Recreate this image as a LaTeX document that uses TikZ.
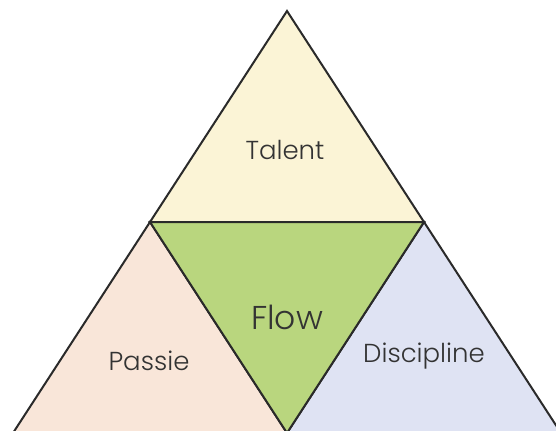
\documentclass[tikz,border=0pt]{standalone}
\usepackage{fontspec}
\setmainfont{Poppins}[UprightFont=* Light]
\definecolor{talentfill}{HTML}{FBF4D6}
\definecolor{flowfill}{HTML}{B9D67E}
\definecolor{passiefill}{HTML}{F9E6D9}
\definecolor{disciplinefill}{HTML}{DFE3F3}
\definecolor{edgegray}{HTML}{2A2A2A}
\definecolor{textgray}{HTML}{333333}
\tikzset{
  tri part/.style={draw=edgegray, line width=1pt, line join=miter},
  tri label/.style={text=textgray, inner sep=0pt, font=\fontsize{13}{16}\selectfont},
  tri biglabel/.style={text=textgray, inner sep=0pt, font=\fontsize{16.5}{20}\selectfont},
}
\begin{document}
\begin{tikzpicture}[x=0.5pt, y=-0.5pt]
    \useasboundingbox (0,0) rectangle (556,430);
    \clip (0,0) rectangle (556,430);
    % corner points
    \coordinate (apex) at (287,11);
    \coordinate (midleft) at (150,222);
    \coordinate (midright) at (424,222);
    \coordinate (botleft) at (13,433);
    \coordinate (botmid) at (287,433);
    \coordinate (botright) at (561,433);
    % four parts
    \filldraw[tri part, fill=talentfill] (apex) -- (midright) -- (midleft) -- cycle;
    \filldraw[tri part, fill=passiefill] (midleft) -- (botmid) -- (botleft) -- cycle;
    \filldraw[tri part, fill=disciplinefill] (midright) -- (botright) -- (botmid) -- cycle;
    \filldraw[tri part, fill=flowfill] (midleft) -- (midright) -- (botmid) -- cycle;
    % labels
    \node (talent) [tri label] at (285,150) {Talent};
    \node (flow) [tri biglabel] at (287,317) {Flow};
    \node (passie) [tri label] at (149,361) {Passie};
    \node (discipline) [tri label] at (424,356) {Discipline};
\end{tikzpicture}
\end{document}
